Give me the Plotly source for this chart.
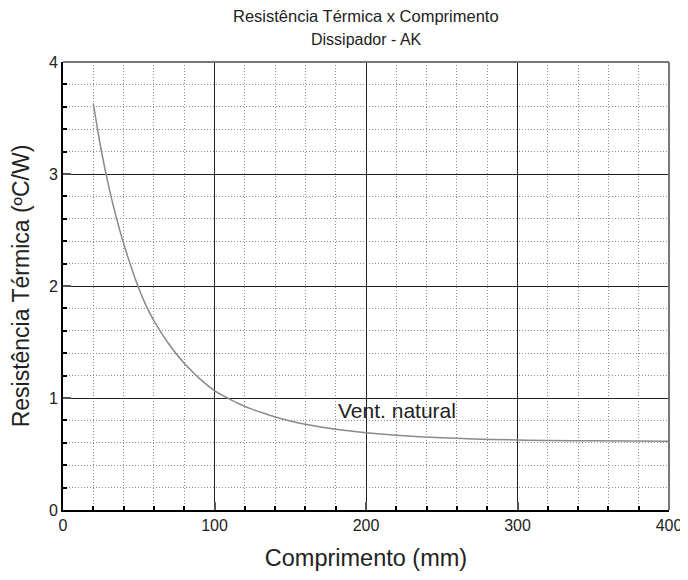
import plotly.graph_objects as go

comprimento_mm = [20, 25, 30, 35, 40, 45, 50, 55, 60, 65, 70, 75, 80, 85, 90, 100,
                  110, 120, 130, 140, 150, 160, 180, 200, 220, 250, 300, 350, 400]
resistencia = [3.63, 3.23, 2.90, 2.62, 2.38, 2.17, 1.98, 1.82, 1.69, 1.58, 1.48, 1.39,
               1.31, 1.24, 1.175, 1.065, 0.99, 0.925, 0.875, 0.83, 0.795, 0.765, 0.72, 0.69,
               0.668, 0.645, 0.625, 0.618, 0.613]

x_ticks = [0, 100, 200, 300, 400]
y_ticks = [0, 1, 2, 3, 4]

FONT = "Liberation Sans, Arial, sans-serif"

fig = go.Figure()
fig.add_trace(go.Scatter(x=comprimento_mm, y=resistencia, mode="lines",
                         line=dict(color="#8a8a8a", width=1.5, shape="spline", smoothing=1.0),
                         showlegend=False, hoverinfo="skip"))

fig.add_annotation(x=180, y=0.885, xref="x", yref="y", text="Vent. natural",
                   showarrow=False, xanchor="left", yanchor="middle",
                   font=dict(family=FONT, size=21, color="#222"))

fig.add_annotation(x=0.5, y=1.0, xref="paper", yref="paper", yshift=46,
                   text="Resistência Térmica x Comprimento", showarrow=False,
                   xanchor="center", yanchor="middle",
                   font=dict(family=FONT, size=16.5, color="#222"))
fig.add_annotation(x=0.5, y=1.0, xref="paper", yref="paper", yshift=23,
                   text="Dissipador - AK", showarrow=False,
                   xanchor="center", yanchor="middle",
                   font=dict(family=FONT, size=16, color="#222"))

# top and right border (grey)
fig.add_shape(type="line", xref="x domain", yref="y domain", x0=0, x1=1, y0=1, y1=1,
              line=dict(color="#777", width=2), layer="above")
fig.add_shape(type="line", xref="x domain", yref="y domain", x0=1, x1=1, y0=0, y1=1,
              line=dict(color="#777", width=2), layer="above")

axis_common = dict(
    showline=True, linecolor="black", linewidth=2,
    ticks="inside", ticklen=8, tickwidth=2, tickcolor="#555",
    showgrid=True, gridcolor="#222", gridwidth=1,
    zeroline=False, automargin=False,
    tickfont=dict(family=FONT, size=16, color="#222"),
)

fig.update_xaxes(range=[0, 400], tickvals=x_ticks, ticktext=[str(v) for v in x_ticks],
                 title=dict(text="Comprimento (mm)", font=dict(family=FONT, size=23.5, color="#222"),
                            standoff=16),
                 minor=dict(dtick=20, tick0=0, showgrid=True, gridcolor="#8c8c8c", griddash="1px,2px",
                            gridwidth=1, ticks="inside", ticklen=4, tickwidth=2, tickcolor="black"),
                 **axis_common)
fig.update_yaxes(range=[0, 4], tickvals=y_ticks, ticktext=[str(v) for v in y_ticks],
                 title=dict(text="Resistência Térmica (ºC/W)", font=dict(family=FONT, size=23, color="#222"),
                            standoff=14),
                 minor=dict(dtick=0.2, tick0=0, showgrid=True, gridcolor="#8c8c8c", griddash="1px,2px",
                            gridwidth=1, ticks="inside", ticklen=4, tickwidth=2, tickcolor="black"),
                 **axis_common)

# the page body adds an 8px offset; margins compensate so the plot lands where the reference has it
fig.update_layout(width=688, height=580, margin=dict(l=55, r=27, t=54, b=78),
                  plot_bgcolor="white", paper_bgcolor="white",
                  font=dict(family=FONT, color="#222"))

fig.write_html("out.html")
